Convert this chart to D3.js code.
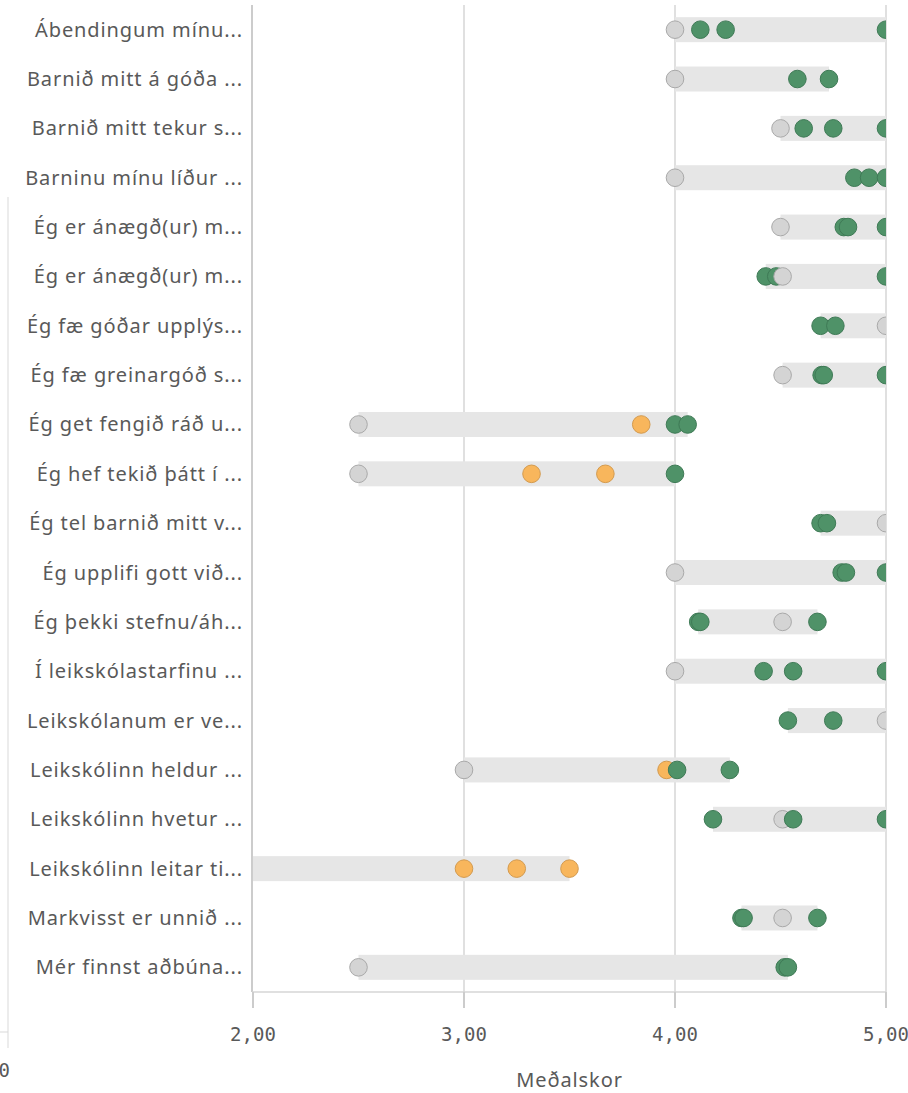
<!DOCTYPE html>
<html>
<head>
<meta charset="utf-8">
<script src="https://cdn.jsdelivr.net/npm/d3@7"></script>
<style>
  body { margin: 0; background: #fff; }
  svg { display: block; }
  .lbl { font-family: "Noto Sans", "Open Sans", sans-serif; font-size: 20px; letter-spacing: 0.9px; fill: #595959; }
  .tick-lbl { font-family: "DejaVu Sans Mono", monospace; font-size: 19px; fill: #595959; }
</style>
</head>
<body>
<div id="chart"></div>
<script>
// spurningar (styttar eins og i mynd)
var questions = ["Ábendingum mínu...", "Barnið mitt á góða ...", "Barnið mitt tekur s...", "Barninu mínu líður ...",
  "Ég er ánægð(ur) m...", "Ég er ánægð(ur) m...", "Ég fæ góðar upplýs...", "Ég fæ greinargóð s...",
  "Ég get fengið ráð u...", "Ég hef tekið þátt í ...", "Ég tel barnið mitt v...", "Ég upplifi gott við...",
  "Ég þekki stefnu/áh...", "Í leikskólastarfinu ...", "Leikskólanum er ve...", "Leikskólinn heldur ...",
  "Leikskólinn hvetur ...", "Leikskólinn leitar ti...", "Markvisst er unnið ...", "Mér finnst aðbúna..."];

// grair punktar
var grayScores = [4.0, 4.0, 4.5, 4.0, 4.5, 4.51, 5.0, 4.51, 2.5, 2.5, 5.0, 4.0, 4.51, 4.0, 5.0, 3.0, 4.51, 1.5, 4.51, 2.5];

// graenir punktar
var greenScores = [
  [4.12, 4.24, 5.0], [4.58, 4.73], [4.61, 4.75, 5.0], [4.85, 4.92, 5.0],
  [4.80, 4.82, 5.0], [4.43, 4.48, 5.0], [4.69, 4.76], [4.695, 4.705, 5.0],
  [4.0, 4.06], [4.0], [4.69, 4.72], [4.79, 4.81, 5.0],
  [4.11, 4.12, 4.675], [4.42, 4.56, 5.0], [4.535, 4.75], [4.01, 4.26],
  [4.18, 4.56, 5.0], [], [4.315, 4.325, 4.675], [4.52, 4.535]
];

// appelsinugulir punktar
var orangeScores = [
  [], [], [], [], [], [], [], [],
  [3.84], [3.32, 3.67], [], [],
  [], [], [], [3.96],
  [], [3.0, 3.25, 3.5], [], []
];

var xTicks = [2, 3, 4, 5];

var W = 908, H = 1093;
var pLeft = 253, pRight = 886, pTop = 5, pBottom = 992;

var svg = d3.select('#chart').append('svg').attr('width', W).attr('height', H);

var x = d3.scaleLinear().domain([2, 5]).range([pLeft, pRight]);
var y = d3.scaleBand().domain(d3.range(questions.length)).range([pTop, pBottom]);

// hluti af annarri mynd vinstra megin
svg.append('line').attr('x1', 8).attr('x2', 8).attr('y1', 197).attr('y2', 1048)
  .attr('stroke', '#d9d9d9').attr('stroke-width', 1);
svg.append('line').attr('x1', 0).attr('x2', 8).attr('y1', 1032).attr('y2', 1032)
  .attr('stroke', '#d9d9d9').attr('stroke-width', 1);
svg.append('text').attr('class', 'tick-lbl').attr('x', 10).attr('y', 1077)
  .attr('text-anchor', 'end').text('5,00');

// hnitalinur
svg.selectAll('.grid').data(xTicks.slice(1)).enter().append('line')
  .attr('x1', function(d) { return x(d); }).attr('x2', function(d) { return x(d); })
  .attr('y1', pTop).attr('y2', pBottom)
  .attr('stroke', '#d6d6d6').attr('stroke-width', 1.5);

svg.append('clipPath').attr('id', 'plotclip').append('rect')
  .attr('x', pLeft).attr('y', 0).attr('width', pRight - pLeft).attr('height', pBottom);

var plot = svg.append('g').attr('clip-path', 'url(#plotclip)');

questions.forEach(function(q, i) {
  var pts = [];
  pts.push({ v: grayScores[i], c: 'gray' });
  greenScores[i].forEach(function(v) { pts.push({ v: v, c: 'green' }); });
  orangeScores[i].forEach(function(v) { pts.push({ v: v, c: 'orange' }); });
  var ext = d3.extent(pts, function(d) { return d.v; });
  var cy = y(i) + y.bandwidth() / 2;

  plot.append('rect')
    .attr('x', x(ext[0])).attr('width', x(ext[1]) - x(ext[0]))
    .attr('y', cy - 12.5).attr('height', 25)
    .attr('fill', '#e6e6e6');

  pts.sort(function(a, b) { return a.v - b.v; });
  plot.selectAll(null).data(pts).enter().append('circle')
    .attr('cx', function(d) { return x(d.v); })
    .attr('cy', cy)
    .attr('r', 8.8)
    .attr('fill', function(d) { return d.c == 'gray' ? '#d4d4d4' : d.c == 'green' ? '#4f9268' : '#f8b65c'; })
    .attr('stroke', function(d) { return d.c == 'gray' ? '#a9a9a9' : d.c == 'green' ? '#3f7a56' : '#d39a4e'; })
    .attr('stroke-width', 1);

  svg.append('text').attr('class', 'lbl')
    .attr('x', 243).attr('y', cy).attr('dy', '0.35em')
    .attr('text-anchor', 'end').text(q);
});

// asar
svg.append('line').attr('x1', pLeft - 1).attr('x2', pLeft - 1).attr('y1', pTop).attr('y2', pBottom)
  .attr('stroke', '#cccccc').attr('stroke-width', 2);
svg.append('line').attr('x1', pLeft - 1).attr('x2', pRight).attr('y1', pBottom).attr('y2', pBottom)
  .attr('stroke', '#d6d6d6').attr('stroke-width', 1.5);

svg.selectAll('.tk').data(xTicks).enter().append('line')
  .attr('x1', function(d) { return x(d); }).attr('x2', function(d) { return x(d); })
  .attr('y1', pBottom).attr('y2', 1008)
  .attr('stroke', '#cccccc').attr('stroke-width', 2);

svg.selectAll('.tl').data(xTicks).enter().append('text')
  .attr('class', 'tick-lbl')
  .attr('x', function(d) { return x(d); })
  .attr('y', 1041)
  .attr('text-anchor', 'middle')
  .text(function(d) { return d3.format('.2f')(d).replace('.', ','); });

svg.append('text').attr('class', 'lbl')
  .attr('x', (pLeft + pRight) / 2).attr('y', 1087)
  .attr('text-anchor', 'middle').text('Meðalskor');
</script>
</body>
</html>
